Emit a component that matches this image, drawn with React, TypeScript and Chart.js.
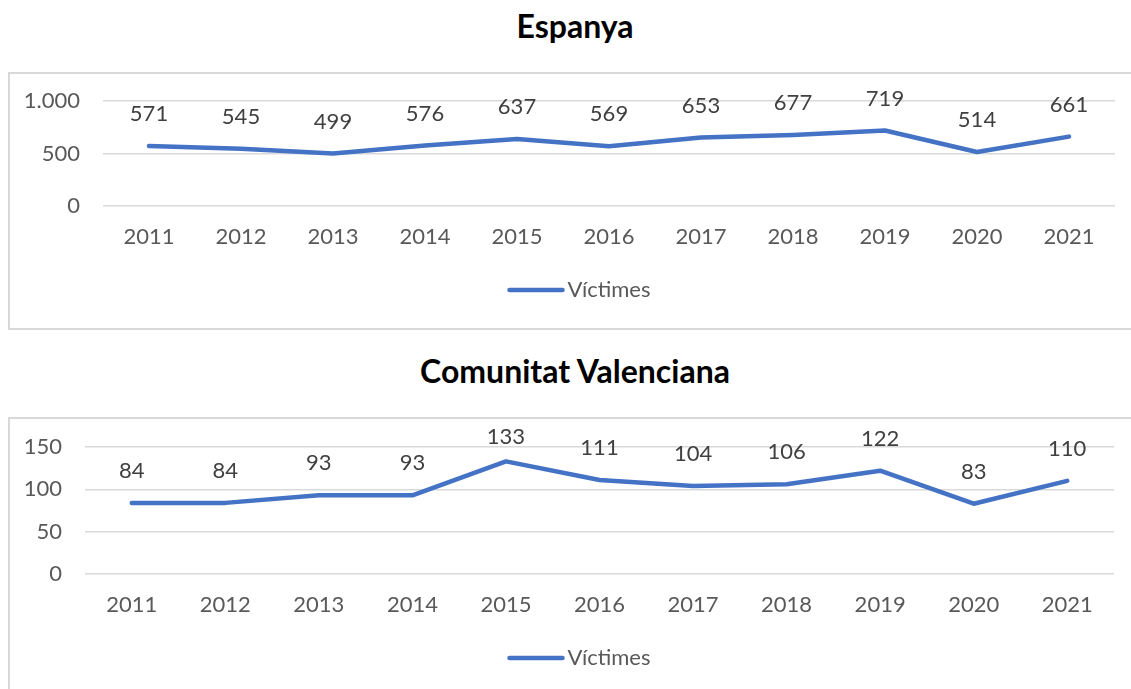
import React, { useEffect, useRef } from "react";
import { Chart, registerables } from "chart.js";

Chart.register(...registerables);

// ---- data ----
const years = ["2011", "2012", "2013", "2014", "2015", "2016", "2017", "2018", "2019", "2020", "2021"];
const seriesLabel = "Víctimes";
const espanyaTitle = "Espanya";
const espanyaVictimes = [571, 545, 499, 576, 637, 569, 653, 677, 719, 514, 661];
const espanyaTicks = [0, 500, 1000];
const cvTitle = "Comunitat Valenciana";
const cvVictimes = [84, 84, 93, 93, 133, 111, 104, 106, 122, 83, 110];
const cvTicks = [0, 50, 100, 150];

const LINE_COLOR = "#4472C4";
const AXIS_TEXT = "#595959";
const LABEL_TEXT = "#404040";
const GRID = "#d9d9d9";
const FONT = "Lato, 'Noto Sans', sans-serif";

const fmt = (v: number) => String(v).replace(/\B(?=(\d{3})+(?!\d))/g, ".");

const dataLabelPlugin = {
  id: "topLabels",
  afterDatasetsDraw(chart: any) {
    const ctx = chart.ctx;
    ctx.save();
    ctx.font = `22px ${FONT}`;
    ctx.fillStyle = LABEL_TEXT;
    ctx.textAlign = "center";
    ctx.textBaseline = "middle";
    chart.data.datasets.forEach((ds: any, i: number) => {
      const meta = chart.getDatasetMeta(i);
      meta.data.forEach((pt: any, j: number) => {
        // keep labels inside the chart box (as the original does)
        const y = Math.max(pt.y - 32, 20);
        ctx.fillText(fmt(ds.data[j]), pt.x, y);
      });
    });
    ctx.restore();
  },
};

const legendLinePlugin = {
  id: "legendLine",
  afterDraw(chart: any, _args: any, opts: any) {
    const ctx = chart.ctx;
    const ds = chart.data.datasets[0];
    ctx.save();
    ctx.font = `22px ${FONT}`;
    const textW = ctx.measureText(ds.label).width;
    const lineW = 57;
    const gap = 3;
    const total = lineW + gap + textW;
    const x0 = chart.width / 2 - total / 2;
    const y = opts.y;
    ctx.strokeStyle = ds.borderColor;
    ctx.lineWidth = 4.5;
    ctx.lineCap = "round";
    ctx.beginPath();
    ctx.moveTo(x0 + 2, y);
    ctx.lineTo(x0 + lineW - 2, y);
    ctx.stroke();
    ctx.fillStyle = AXIS_TEXT;
    ctx.textAlign = "left";
    ctx.textBaseline = "middle";
    ctx.fillText(ds.label, x0 + lineW + gap, y);
    ctx.restore();
  },
};

type Props = {
  values: number[];
  ticks: number[];
  width: number;
  height: number;
  padding: { left: number; right: number; top: number; bottom: number };
  yWidth: number;
  legendY: number;
};

function LineChart({ values, ticks, width, height, padding, yWidth, legendY }: Props) {
  const ref = useRef<HTMLCanvasElement>(null);
  useEffect(() => {
    const chart = new Chart(ref.current!, {
      type: "line",
      data: {
        labels: years,
        datasets: [
          {
            label: seriesLabel,
            data: values,
            borderColor: LINE_COLOR,
            backgroundColor: LINE_COLOR,
            borderWidth: 4.5,
            borderCapStyle: "round",
            borderJoinStyle: "round",
            pointRadius: 0,
            pointHoverRadius: 0,
            tension: 0,
            fill: false,
          },
        ],
      },
      options: {
        animation: false,
        responsive: false,
        maintainAspectRatio: false,
        devicePixelRatio: 1,
        events: [],
        layout: { padding },
        plugins: {
          legend: { display: false },
          tooltip: { enabled: false },
          title: { display: false },
          legendLine: { y: legendY },
        } as any,
        scales: {
          x: {
            offset: true,
            grid: { display: false, drawTicks: false },
            border: { display: false },
            ticks: {
              color: AXIS_TEXT,
              font: { family: FONT, size: 22 },
              padding: 18,
              maxRotation: 0,
              autoSkip: false,
            },
            afterFit: (s: any) => {
              s.height = 60;
              s.paddingLeft = 0;
              s.paddingRight = 0;
            },
          },
          y: {
            min: ticks[0],
            max: ticks[ticks.length - 1],
            afterBuildTicks: (s: any) => {
              s.ticks = ticks.map((v) => ({ value: v }));
            },
            ticks: {
              color: AXIS_TEXT,
              font: { family: FONT, size: 22 },
              padding: 23,
              callback: (v: any) => fmt(Number(v)),
            },
            grid: { color: GRID, lineWidth: 1.5, drawTicks: false },
            border: { display: false },
            afterFit: (s: any) => {
              s.width = yWidth;
              s.paddingTop = 0;
              s.paddingBottom = 0;
            },
          },
        },
      } as any,
      plugins: [dataLabelPlugin, legendLinePlugin],
    });
    return () => chart.destroy();
  }, []);
  return <canvas ref={ref} width={width} height={height} style={{ width, height, display: "block" }} />;
}

const titleStyle = (top: number): React.CSSProperties => ({
  position: "absolute",
  left: 0,
  width: 1150,
  top,
  textAlign: "center",
  fontFamily: FONT,
  fontWeight: 700,
  fontSize: 32,
  lineHeight: "32px",
  color: "#000",
  whiteSpace: "nowrap",
});

const boxStyle = (top: number, height: number): React.CSSProperties => ({
  position: "absolute",
  left: 8,
  top,
  width: 1142,
  height,
  border: `2px solid ${GRID}`,
  boxSizing: "border-box",
});

export default function App() {
  return (
    <div style={{ position: "fixed", inset: 0, overflow: "hidden", background: "#fff" }}>
      <div style={titleStyle(10)}>{espanyaTitle}</div>
      <div style={boxStyle(72, 258)} />
      <div style={{ position: "absolute", left: 8, top: 72 }}>
        <LineChart
          values={espanyaVictimes}
          ticks={espanyaTicks}
          width={1142}
          height={257}
          padding={{ left: 0, right: 35, top: 29, bottom: 63 }}
          yWidth={95}
          legendY={218}
        />
      </div>
      <div style={titleStyle(355)}>{cvTitle}</div>
      <div style={boxStyle(417, 300)} />
      <div style={{ position: "absolute", left: 8, top: 417 }}>
        <LineChart
          values={cvVictimes}
          ticks={cvTicks}
          width={1142}
          height={283}
          padding={{ left: 0, right: 36, top: 30, bottom: 66 }}
          yWidth={77}
          legendY={241}
        />
      </div>
    </div>
  );
}
